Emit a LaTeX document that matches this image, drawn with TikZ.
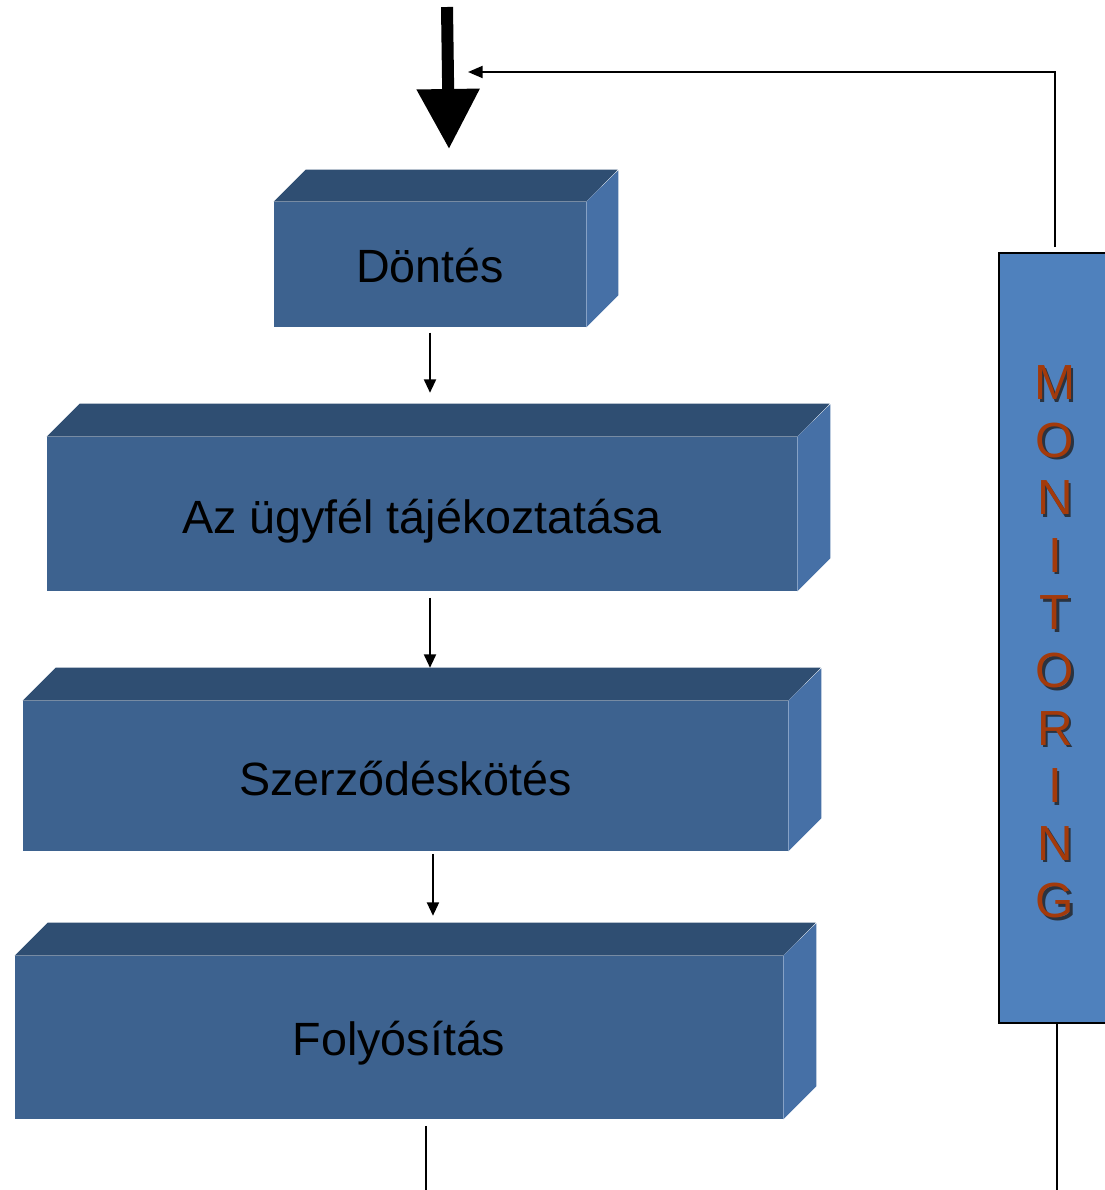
\documentclass[tikz,border=0pt]{standalone}
\usepackage{fontspec}
\setmainfont{Liberation Sans}
\usetikzlibrary{arrows.meta}
\definecolor{frontc}{HTML}{3D628F}
\definecolor{topc}{HTML}{2F4E72}
\definecolor{sidec}{HTML}{4670A6}
\definecolor{monc}{HTML}{4F81BD}
\definecolor{letc}{HTML}{A33A0B}
\definecolor{shadc}{HTML}{2A3340}
\newcommand{\drawfaces}[4]{%
  \fill[topc] (#1.north west) -- ++(#2,-#2) -- ++(#3,0) -- (#1.north east) -- cycle;
  \fill[sidec] (#1.north east) -- (#1.south east) -- ++(#2,-#2) -- ++(0,-#4) -- cycle;
}
\newcommand{\monletters}{M\\O\\N\\I\\T\\O\\R\\I\\N\\G}
\begin{document}
\begin{tikzpicture}[x=0.75pt,y=-0.75pt,
  front/.style={fill=frontc, draw=none, inner sep=0pt},
  boxtext/.style={inner sep=0pt, text=black, font=\fontsize{35}{42}\selectfont},
  conn/.style={line width=1.4pt, -{Triangle[length=10pt,width=9pt]}},
  plain/.style={line width=1.4pt},
  monbox/.style={draw=black, line width=1.5pt, fill=monc, inner sep=0pt},
  monlet/.style={align=center, inner sep=0pt, font=\fontsize{37}{43.2}\selectfont}]
\useasboundingbox (0,0) rectangle (1105,1190);
\fill[white] (0,0) rectangle (1105,1190);

% boxes
\node[front, minimum width=234pt, minimum height=93.75pt] (b1) at (430,264.5) {};
\drawfaces{b1}{32}{312}{125}
\node[boxtext] (t1) at ([yshift=-1pt]b1.center) {Döntés};
\node[front, minimum width=562.5pt, minimum height=115.5pt] (b2) at (422,514) {};
\drawfaces{b2}{33}{750}{154}
\node[boxtext] (t2) at ([yshift=-5pt]b2.center) {Az ügyfél tájékoztatása};
\node[front, minimum width=573.75pt, minimum height=112.5pt] (b3) at (405.5,776) {};
\drawfaces{b3}{33}{765}{150}
\node[boxtext] (t3) at ([yshift=-2pt]b3.center) {Szerződéskötés};
\node[front, minimum width=576pt, minimum height=122.25pt] (b4) at (399,1037.5) {};
\drawfaces{b4}{33}{768}{163}
\node[boxtext] (t4) at ([yshift=-4.5pt]b4.center) {Folyósítás};

% monitoring
\node[monbox, minimum width=84pt, minimum height=577.5pt] (mon) at (1055,638) {};
\node[monlet, text=shadc] (monshadow) at (1057.5,644.5) {\monletters};
\node[monlet, text=letc] (montext) at (1055,642) {\monletters};

% big input arrow
\coordinate (in0) at (447,7);
\coordinate (in1) at (449,149);
\draw[line width=9pt, -{Triangle[length=45pt,width=45pt]}] (in0) -- (in1);

% feedback
\coordinate (fbc) at (1055,72);
\coordinate (fbend) at (468,72);
\draw[line width=1.5pt, -{Triangle[length=11pt,width=9pt]}]
  ([yshift=3.75pt]mon.north) -- (fbc) -- (fbend);

% flow arrows
\draw[conn] ([yshift=-4pt]b1.south) -- ([yshift=33pt]b1.south |- b2.north);
\draw[conn] ([xshift=6pt,yshift=-5pt]b2.south) -- ([xshift=6pt,yshift=24.75pt]b2.south |- b3.north);
\draw[conn] ([xshift=20.6pt,yshift=-2pt]b3.south) -- ([xshift=20.6pt,yshift=30pt]b3.south |- b4.north);
\draw[plain] ([xshift=20.25pt,yshift=-5pt]b4.south) -- ++(0,75);
\draw[plain] ([xshift=1.5pt]mon.south) -- ++(0,180);
\end{tikzpicture}
\end{document}
